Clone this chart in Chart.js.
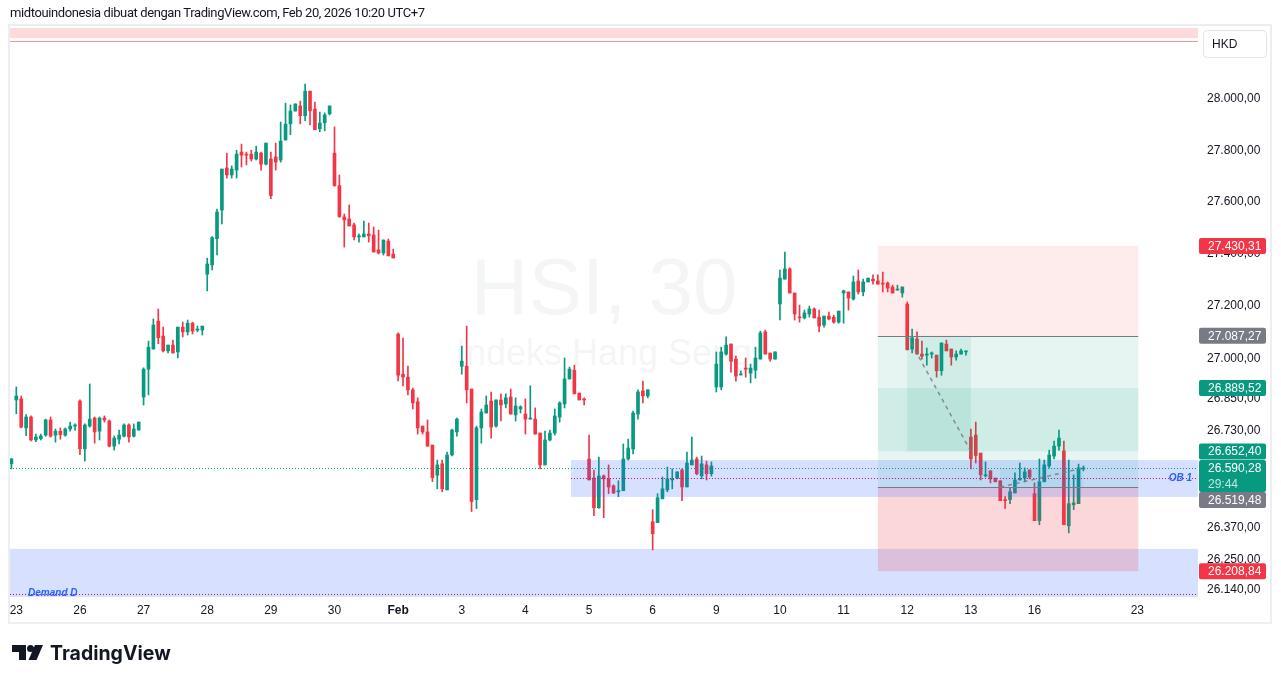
<!DOCTYPE html>
<html>
<head>
<meta charset="utf-8">
<script src="https://cdn.jsdelivr.net/npm/chart.js@4.4.1/dist/chart.umd.min.js"></script>
<style>
    html, body { margin: 0; padding: 0; background: #ffffff; }
    #wrap { position: relative; width: 1281px; height: 684px; overflow: hidden; }
    #chart { position: absolute; left: 0; top: 0; }
    #title { position: absolute; left: 10px; top: 5px; font: 13px Roboto, sans-serif; letter-spacing: -0.4px; color: #131722; white-space: nowrap; }
    #logo { position: absolute; left: 12px; top: 643px; }
</style>
</head>
<body>
<div id="wrap">
    <canvas id="chart" width="1281" height="684"></canvas>
    <div id="title">midtouindonesia dibuat dengan TradingView.com, Feb 20, 2026 10:20 UTC+7</div>
    <svg id="logo" width="170" height="24" viewBox="0 0 170 24">
        <path d="M0 2h14v15h-7v-8h-7z" fill="#131722"/>
        <circle cx="18.5" cy="5.5" r="3.5" fill="#131722"/>
        <path d="M23 2h8l-6.5 15h-8z" fill="#131722"/>
        <text x="38" y="17" font-family="Inter, Roboto, sans-serif" font-weight="700" font-size="19.5" fill="#131722">TradingView</text>
    </svg>
</div>
<script>
// HSI 30 minute candles, Jan 22 (last bar) .. Feb 20
const openPrices = [
    26606, 26845, 26849, 26740, 26781, 26695, 26700, 26713, 26770, 26713, 26728, 26713, 26736, 26747,
    26841, 26662, 26747, 26777, 26728, 26777, 26766, 26672, 26698, 26709, 26751, 26709, 26732,
    26856, 26961, 27037, 27143, 27086, 27030, 27052, 27026, 27120, 27102, 27135, 27109, 27109,
    27322, 27357, 27458, 27568, 27731, 27704, 27723, 27793, 27785, 27785, 27766, 27789, 27746,
    27766, 27774, 27762, 27840, 27903, 27953, 27973, 27935, 28031, 27961, 27884, 27907, 27942,
    27789, 27663, 27542, 27534, 27511, 27465, 27465, 27476, 27472, 27415, 27403, 27449, 27399,
    27094, 26942, 26931, 26883, 26838, 26747, 26725, 26676, 26564, 26606, 26509, 26639, 26725,
    26972, 26972, 26886, 26473, 26740, 26796, 26841, 26747, 26845, 26830, 26856, 26789, 26811,
    26792, 26773, 26773, 26721, 26602, 26695, 26721, 26781, 26830, 26924, 26957, 26871, 26849,
    26624, 26553, 26443, 26561, 26550, 26524, 26502, 26506, 26624, 26661, 26792, 26879, 26860,
    26391, 26388, 26476, 26509, 26546, 26553, 26583, 26520, 26602, 26624, 26561, 26602, 26569,
    26894, 26894, 27018, 27056, 26999, 26939, 26965, 26946, 26957, 26999, 27102, 27022, 26999,
    27208, 27303, 27342, 27250, 27158, 27155, 27170, 27189, 27158, 27128, 27162, 27158, 27139,
    27250, 27254, 27227, 27296, 27254, 27292, 27303, 27296, 27288, 27288, 27273, 27261, 27250,
    27208, 27037, 27075, 27018, 27014, 27018, 27014, 26955, 27056, 27037, 27007, 27018, 27026,
    26706, 26713, 26646, 26561, 26580, 26553, 26543, 26473, 26473, 26498, 26546, 26553, 26583,
    26495, 26395, 26539, 26598, 26635, 26672,
    26654, 26376, 26454, 26458, 26587
];
const highPrices = [
    26626, 26894, 26860, 26790, 26785, 26717, 26717, 26773, 26781, 26736, 26740, 26740, 26762, 26755,
    26845, 26755, 26905, 26781, 26781, 26785, 26770, 26710, 26732, 26755, 26755, 26755, 26762,
    26966, 27067, 27151, 27189, 27120, 27052, 27071, 27120, 27139, 27147, 27139, 27124, 27124,
    27383, 27466, 27572, 27727, 27789, 27739, 27800, 27824, 27793, 27800, 27816, 27793, 27828,
    27793, 27828, 27910, 27984, 27977, 27981, 27992, 28059, 28031, 27988, 27949, 27946, 27973,
    27891, 27704, 27553, 27588, 27518, 27476, 27526, 27518, 27503, 27491, 27453, 27457, 27418,
    27098, 27079, 26973, 26890, 26853, 26747, 26770, 26676, 26620, 26620, 26650, 26736, 26777,
    27048, 27124, 26886, 26747, 26811, 26860, 26875, 26845, 26868, 26868, 26886, 26853, 26823,
    26849, 26898, 26815, 26721, 26728, 26732, 26811, 26838, 27003, 26969, 26976, 26871, 26853,
    26713, 26583, 26631, 26565, 26602, 26528, 26543, 26680, 26698, 26803, 26883, 26916, 26883,
    26436, 26495, 26557, 26594, 26587, 26576, 26587, 26650, 26706, 26631, 26635, 26616, 26613,
    27026, 27044, 27083, 27056, 27010, 26954, 27003, 26980, 27044, 27105, 27109, 27022, 27026,
    27338, 27407, 27346, 27250, 27204, 27185, 27200, 27193, 27185, 27162, 27177, 27166, 27181,
    27261, 27254, 27315, 27338, 27303, 27307, 27319, 27319, 27330, 27292, 27280, 27280, 27273,
    27216, 27113, 27102, 27067, 27041, 27026, 27014, 27060, 27071, 27037, 27030, 27037, 27030,
    26736, 26762, 26646, 26613, 26580, 26553, 26543, 26484, 26517, 26572, 26609, 26591, 26583,
    26535, 26624, 26620, 26657, 26691, 26732,
    26691, 26620, 26565, 26605, 26598
];
const lowPrices = [
    26587, 26793, 26740, 26711, 26691, 26689, 26695, 26709, 26706, 26687, 26698, 26709, 26728, 26732,
    26640, 26616, 26743, 26683, 26695, 26762, 26669, 26657, 26680, 26706, 26687, 26706, 26732,
    26826, 26864, 27037, 27057, 27026, 27022, 27022, 27003, 27083, 27090, 27094, 27102, 27090,
    27258, 27338, 27396, 27515, 27692, 27692, 27692, 27735, 27743, 27758, 27762, 27723, 27743,
    27612, 27723, 27754, 27840, 27861, 27953, 27903, 27915, 27899, 27880, 27872, 27876, 27938,
    27660, 27540, 27426, 27507, 27453, 27445, 27465, 27445, 27407, 27399, 27395, 27392, 27384,
    26917, 26898, 26864, 26811, 26717, 26717, 26672, 26540, 26513, 26502, 26509, 26635, 26709,
    26942, 26834, 26429, 26440, 26683, 26796, 26702, 26743, 26766, 26815, 26792, 26766, 26796,
    26717, 26773, 26717, 26587, 26602, 26691, 26713, 26762, 26815, 26924, 26868, 26845, 26826,
    26546, 26414, 26440, 26406, 26495, 26495, 26484, 26506, 26620, 26643, 26773, 26834, 26853,
    26287, 26388, 26476, 26502, 26513, 26550, 26469, 26520, 26602, 26565, 26550, 26546, 26560,
    26875, 26883, 27014, 26950, 26916, 26939, 26931, 26909, 26927, 26999, 27018, 26991, 26999,
    27147, 27303, 27250, 27147, 27139, 27151, 27158, 27155, 27102, 27120, 27147, 27135, 27135,
    27135, 27185, 27223, 27246, 27239, 27292, 27284, 27284, 27254, 27254, 27250, 27261, 27234,
    27034, 27022, 27018, 26999, 26976, 27003, 26931, 26938, 27030, 26976, 26995, 27018, 27014,
    26587, 26609, 26546, 26557, 26535, 26539, 26469, 26440, 26458, 26498, 26546, 26539, 26550,
    26395, 26380, 26539, 26591, 26624, 26657,
    26380, 26350, 26436, 26458, 26580
];
const closePrices = [
    26624, 26860, 26743, 26781, 26695, 26706, 26710, 26770, 26709, 26728, 26715, 26736, 26747, 26751,
    26662, 26751, 26773, 26725, 26777, 26770, 26672, 26702, 26713, 26751, 26706, 26736, 26762,
    26961, 27044, 27128, 27080, 27030, 27052, 27022, 27120, 27102, 27135, 27105, 27113, 27124,
    27361, 27462, 27561, 27727, 27704, 27727, 27785, 27781, 27781, 27766, 27793, 27746, 27828,
    27624, 27754, 27836, 27902, 27953, 27981, 27935, 28031, 27954, 27880, 27906, 27938, 27973,
    27663, 27543, 27530, 27507, 27465, 27469, 27476, 27469, 27407, 27403, 27453, 27392, 27384,
    26938, 26931, 26883, 26834, 26740, 26725, 26672, 26555, 26602, 26513, 26639, 26732, 26773,
    26991, 26883, 26466, 26740, 26800, 26826, 26743, 26845, 26826, 26853, 26792, 26822, 26819,
    26773, 26777, 26717, 26602, 26695, 26721, 26785, 26834, 26924, 26961, 26868, 26845, 26845,
    26546, 26443, 26561, 26550, 26520, 26498, 26506, 26624, 26665, 26796, 26875, 26860, 26883,
    26347, 26480, 26513, 26550, 26550, 26576, 26520, 26609, 26620, 26569, 26606, 26569, 26598,
    26980, 27026, 27052, 26991, 26935, 26942, 26961, 26965, 27003, 27098, 27018, 26999, 27026,
    27307, 27342, 27250, 27170, 27155, 27174, 27189, 27155, 27124, 27162, 27151, 27139, 27181,
    27258, 27231, 27292, 27254, 27292, 27307, 27296, 27284, 27284, 27269, 27250, 27265, 27273,
    27034, 27079, 27018, 27010, 27018, 27022, 26955, 27060, 27030, 27007, 27018, 27030, 27030,
    26624, 26637, 26565, 26565, 26550, 26539, 26469, 26469, 26502, 26546, 26550, 26576, 26557,
    26395, 26539, 26602, 26639, 26672, 26702,
    26380, 26458, 26461, 26591, 26590.28
];

// first bar of each session day (bar index) and its label
const dayTickIndex = [1, 14, 27, 40, 53, 66, 79, 92, 105, 118, 131, 144, 157, 170, 183, 196, 209, 230];
const dayTickLabels = ['23', '26', '27', '28', '29', '30', 'Feb', '3', '4', '5', '6', '9', '10', '11', '12', '13', '16', '23'];
const priceTicks = [28000, 27800, 27600, 27400, 27200, 27000, 26850, 26730, 26370, 26250, 26140];

// drawings
const lastPrice = 26590.28;
const barCountdown = '29:44';
const shortEntry = 27087.27;
const shortStop = 27430.31;
const shortTarget = 26652.40;
const longEntry = 26519.48;
const longTarget = 26889.52;
const longStop = 26208.84;
const obTop = 26620;
const obBottom = 26483;
const obStartBar = 114.3;
const demandTop = 26291;
const demandMid = 26126;
const supplyBottom = 28240;
const supplyLine = 28228;
const positionBars = [177, 230.2];
const shortActiveBars = [183, 196];
const longActiveBars = [202, 219];

const upColor = '#089981';
const downColor = '#f23645';
const fontFamily = '"Liberation Sans", Arial, sans-serif';

function fmt(v) {
    const parts = v.toFixed(2).split('.');
    return parts[0].replace(/\B(?=(\d{3})+(?!\d))/g, '.') + ',' + parts[1];
}

const candleColors = closePrices.map((c, i) => (c >= openPrices[i] ? upColor : downColor));
const wickData = lowPrices.map((l, i) => ({ x: i, y: [l, highPrices[i]] }));
const bodyData = openPrices.map((o, i) => ({ x: i, y: [Math.min(o, closePrices[i]), Math.max(o, closePrices[i])] }));

const watermarkPlugin = {
    id: 'watermark',
    beforeDatasetsDraw(chart) {
        const ctx = chart.ctx;
        const a = chart.chartArea;
        const cx = (a.left + a.right) / 2;
        ctx.save();
        ctx.fillStyle = 'rgba(120, 123, 134, 0.08)';
        ctx.textAlign = 'center';
        ctx.textBaseline = 'alphabetic';
        ctx.font = '80px ' + fontFamily;
        ctx.fillText('HSI, 30', cx, 314);
        ctx.font = '36px ' + fontFamily;
        ctx.fillText('Indeks Hang Seng', cx, 365);
        ctx.restore();
    }
};

const drawingsPlugin = {
    id: 'drawings',
    afterDatasetsDraw(chart) {
        const ctx = chart.ctx;
        const a = chart.chartArea;
        const xs = chart.scales.x;
        const ys = chart.scales.y;
        const px = v => xs.getPixelForValue(v);
        const py = v => ys.getPixelForValue(v);

        function box(b0, b1, p0, p1, fill) {
            const x0 = px(b0), x1 = px(b1);
            const y0 = py(p0), y1 = py(p1);
            ctx.fillStyle = fill;
            ctx.fillRect(x0, Math.min(y0, y1), x1 - x0, Math.abs(y1 - y0));
        }
        function hline(b0, b1, p, color, dash, width) {
            const y = Math.round(py(p)) + 0.5;
            ctx.save();
            ctx.strokeStyle = color;
            ctx.lineWidth = width || 1;
            ctx.setLineDash(dash || []);
            ctx.beginPath();
            ctx.moveTo(px(b0), y);
            ctx.lineTo(px(b1), y);
            ctx.stroke();
            ctx.restore();
        }
        function dashedPath(b0, p0, b1, p1) {
            ctx.save();
            ctx.strokeStyle = 'rgba(120, 123, 134, 0.85)';
            ctx.lineWidth = 1.5;
            ctx.setLineDash([4, 4]);
            ctx.beginPath();
            ctx.moveTo(px(b0), py(p0));
            ctx.lineTo(px(b1), py(p1));
            ctx.stroke();
            ctx.restore();
        }

        ctx.save();
        ctx.beginPath();
        ctx.rect(a.left, a.top, a.right - a.left, a.bottom - a.top);
        ctx.clip();

        const xMin = xs.min, xMax = xs.max;

        // supply zone at the very top
        box(xMin, xMax, supplyBottom, ys.max + 100, 'rgba(242, 54, 69, 0.18)');
        hline(xMin, xMax, supplyLine, 'rgba(242, 54, 69, 0.55)');

        // demand zone at the bottom
        box(xMin, xMax, demandTop, ys.min - 100, 'rgba(41, 98, 255, 0.19)');
        hline(xMin, xMax, demandMid, '#a3206e', [1, 2]);
        ctx.fillStyle = '#2962ff';
        ctx.font = 'italic bold 10px ' + fontFamily;
        ctx.textAlign = 'left';
        ctx.textBaseline = 'middle';
        ctx.fillText('Demand D', px(3.4), py(demandMid) - 1);

        // short position
        box(positionBars[0], positionBars[1], shortEntry, shortStop, 'rgba(242, 54, 69, 0.1)');
        box(positionBars[0], positionBars[1], shortTarget, shortEntry, 'rgba(8, 153, 129, 0.1)');
        box(shortActiveBars[0], shortActiveBars[1], shortTarget, shortEntry, 'rgba(8, 153, 129, 0.1)');

        // long position
        box(positionBars[0], positionBars[1], longEntry, longTarget, 'rgba(8, 153, 129, 0.1)');
        box(positionBars[0], positionBars[1], longStop, longEntry, 'rgba(242, 54, 69, 0.2)');
        box(longActiveBars[0], longActiveBars[1], longEntry, lastPrice, 'rgba(8, 153, 129, 0.08)');

        // order block
        box(obStartBar, xMax, obBottom, obTop, 'rgba(41, 98, 255, 0.19)');
        hline(obStartBar, xMax, (obTop + obBottom) / 2, '#a3206e', [1, 2]);
        ctx.fillStyle = '#2962ff';
        ctx.font = 'italic bold 10px ' + fontFamily;
        ctx.textAlign = 'right';
        ctx.textBaseline = 'middle';
        ctx.fillText('OB 1', a.right - 6, py((obTop + obBottom) / 2));

        hline(positionBars[0], positionBars[1], shortEntry, '#787b86');
        hline(positionBars[0], positionBars[1], longEntry, '#787b86');
        dashedPath(shortActiveBars[0], shortEntry, shortActiveBars[1], shortTarget);
        dashedPath(longActiveBars[0], longEntry, longActiveBars[1], lastPrice);

        // last price line
        hline(xMin, xMax, lastPrice, upColor, [1, 2]);

        ctx.restore();
    }
};

const axisLabelsPlugin = {
    id: 'axisLabels',
    afterDraw(chart) {
        const ctx = chart.ctx;
        const a = chart.chartArea;
        const ys = chart.scales.y;
        const labels = [
            { v: shortStop, bg: downColor },
            { v: shortEntry, bg: '#787b86' },
            { v: longTarget, bg: upColor },
            { v: shortTarget, bg: upColor },
            { v: lastPrice, bg: upColor, extra: barCountdown },
            { v: longEntry, bg: '#787b86' },
            { v: longStop, bg: downColor }
        ];
        ctx.save();
        ctx.font = '12px ' + fontFamily;
        ctx.textBaseline = 'middle';
        ctx.textAlign = 'left';
        let prevBottom = -Infinity;
        labels.sort((p, q) => q.v - p.v).forEach(l => {
            const h = l.extra ? 32 : 16;
            let top = ys.getPixelForValue(l.v) - 8;
            if (top < prevBottom) top = prevBottom;
            ctx.fillStyle = l.bg;
            ctx.beginPath();
            ctx.roundRect(a.right + 1, top, 67, h, 2);
            ctx.fill();
            ctx.fillStyle = '#ffffff';
            ctx.fillText(fmt(l.v), a.right + 10, top + 8.5);
            if (l.extra) {
                ctx.fillStyle = 'rgba(255, 255, 255, 0.75)';
                ctx.fillText(l.extra, a.right + 10, top + 24.5);
            }
            prevBottom = top + h;
        });

        // currency box
        ctx.strokeStyle = '#e0e3eb';
        ctx.lineWidth = 1;
        ctx.beginPath();
        ctx.roundRect(1203.5, 30.5, 63, 27, 4);
        ctx.stroke();
        ctx.fillStyle = '#131722';
        ctx.fillText('HKD', 1212, 44.5);

        // frame
        ctx.strokeStyle = '#eceef2';
        ctx.lineWidth = 2;
        ctx.strokeRect(9, 25, 1262, 598);
        ctx.restore();
    }
};

const ctx = document.getElementById('chart').getContext('2d');
const chart = new Chart(ctx, {
    type: 'bar',
    data: {
        datasets: [
            {
                label: 'wick',
                data: wickData,
                backgroundColor: candleColors,
                barThickness: 1,
                grouped: false,
                order: 2
            },
            {
                label: 'body',
                data: bodyData,
                backgroundColor: candleColors,
                barThickness: 3,
                minBarLength: 1,
                grouped: false,
                order: 1
            }
        ]
    },
    options: {
        responsive: false,
        animation: false,
        devicePixelRatio: 1,
        layout: {
            padding: { left: 10, top: 28, right: 10, bottom: 61 }
        },
        plugins: {
            legend: { display: false },
            tooltip: { enabled: false },
            title: { display: false }
        },
        scales: {
            x: {
                type: 'linear',
                min: -0.29,
                max: 242.4,
                offset: false,
                grid: { display: false, drawTicks: false },
                border: { display: false },
                afterBuildTicks: scale => {
                    scale.ticks = dayTickIndex.map(v => ({ value: v }));
                },
                afterFit: scale => {
                    scale.height = 26;
                },
                ticks: {
                    autoSkip: false,
                    maxRotation: 0,
                    padding: 6,
                    color: '#131722',
                    font: c => ({ family: fontFamily, size: 12, weight: dayTickLabels[c.index] === 'Feb' ? 'bold' : 'normal' }),
                    callback: (value, index) => dayTickLabels[index]
                }
            },
            y: {
                type: 'logarithmic',
                position: 'right',
                min: 26114.5,
                max: 28280,
                grid: { display: false, drawTicks: false },
                border: { display: false },
                afterBuildTicks: scale => {
                    scale.ticks = priceTicks.map(v => ({ value: v }));
                },
                afterFit: scale => {
                    scale.width = 73;
                },
                ticks: {
                    autoSkip: false,
                    padding: 9,
                    color: '#131722',
                    font: { family: fontFamily, size: 12 },
                    callback: value => fmt(value)
                }
            }
        }
    },
    plugins: [watermarkPlugin, drawingsPlugin, axisLabelsPlugin]
});
</script>
</body>
</html>
